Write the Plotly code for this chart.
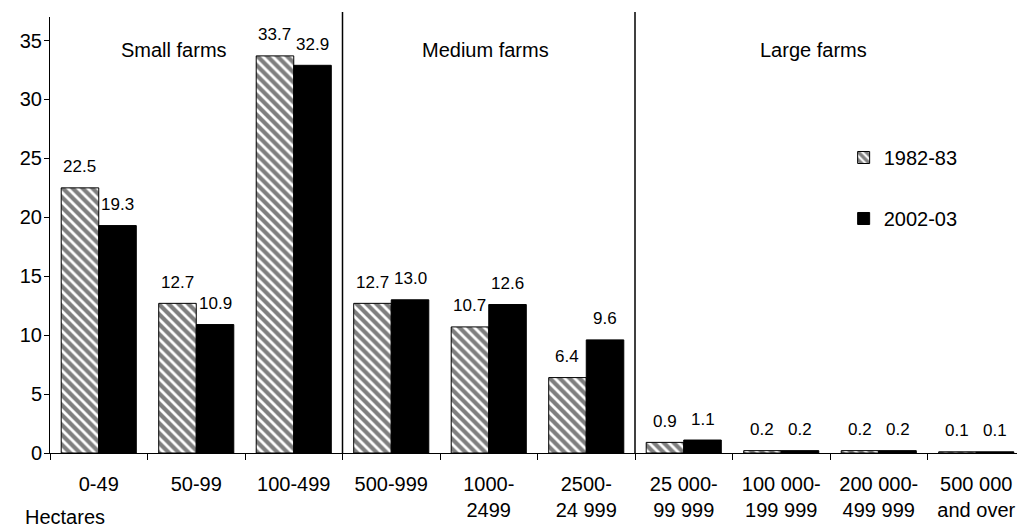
import plotly.graph_objects as go

categories = ["0-49", "50-99", "100-499", "500-999", "1000-<br>2499", "2500-<br>24 999",
              "25 000-<br>99 999", "100 000-<br>199 999", "200 000-<br>499 999", "500 000<br>and over"]
v1982 = [22.5, 12.7, 33.7, 12.7, 10.7, 6.4, 0.9, 0.2, 0.2, 0.1]
v2002 = [19.3, 10.9, 32.9, 13.0, 12.6, 9.6, 1.1, 0.2, 0.2, 0.1]
series_names = ["1982-83", "2002-03"]
group_labels = ["Small farms", "Medium farms", "Large farms"]
group_label_x = [0.127, 0.447, 0.783]
group_dividers = [2.5, 5.5]
axis_title = "Hectares"

FONT = "Liberation Sans, Arial, sans-serif"
BARGAP = 0.23
half = (1 - BARGAP) / 4.0

fig = go.Figure()
fig.add_trace(go.Bar(
    x=categories, y=v1982, name=series_names[0], legendgroup="a",
    marker=dict(color="white", line=dict(color="black", width=1),
                pattern=dict(shape="\\", fgcolor="black", bgcolor="white", size=7, solidity=0.6)),
))
fig.add_trace(go.Bar(
    x=categories, y=v2002, name=series_names[1], legendgroup="b",
    marker=dict(color="black", line=dict(color="black", width=1)),
))

annotations = []
for i, (a, b) in enumerate(zip(v1982, v2002)):
    for off, val in ((-half, a), (half, b)):
        annotations.append(dict(x=i + off, y=val, xref="x", yref="y", text=f"{val:.1f}",
                                showarrow=False, yanchor="middle", yshift=21,
                                font=dict(family=FONT, size=17, color="black")))
for lab, gx in zip(group_labels, group_label_x):
    annotations.append(dict(x=gx, y=0.924, xref="paper", yref="paper", text=lab, showarrow=False,
                            xanchor="center", yanchor="middle",
                            font=dict(family=FONT, size=20, color="black")))
annotations.append(dict(x=-0.0277, y=-0.146, xref="paper", yref="paper", text=axis_title,
                        showarrow=False, xanchor="left", yanchor="middle",
                        font=dict(family=FONT, size=20, color="black")))

shapes = [dict(type="line", xref="x", yref="paper", x0=d, x1=d, y0=0, y1=1.0115,
               line=dict(color="black", width=1.5)) for d in group_dividers]

# page body has an 8px margin, so the figure is sized to fill the rest of the window
fig.update_layout(
    width=1017, height=520,
    margin=dict(l=42, r=0, t=9, b=75),
    paper_bgcolor="white", plot_bgcolor="white",
    barmode="group", bargap=BARGAP, bargroupgap=0,
    font=dict(family=FONT, size=20, color="black"),
    showlegend=True,
    legend=dict(x=0.814, y=0.7225, xanchor="left", yanchor="top", tracegroupgap=32,
                bgcolor="rgba(0,0,0,0)", font=dict(family=FONT, size=20, color="black")),
    annotations=annotations, shapes=shapes,
)
fig.update_xaxes(type="category", showline=True, linecolor="black", linewidth=1,
                 ticks="outside", tickson="boundaries", ticklen=6, tickcolor="black",
                 showgrid=False, tickfont=dict(family=FONT, size=20), ticklabelstandoff=13,
                 automargin=False)
fig.update_yaxes(range=[0, 37], showline=True, linecolor="black", linewidth=1,
                 ticks="outside", ticklen=5, tickcolor="black", tickvals=[0, 5, 10, 15, 20, 25, 30, 35],
                 showgrid=False, zeroline=False, tickfont=dict(family=FONT, size=20),
                 ticklabelstandoff=-2, automargin=False)

fig.write_html("out.html")
